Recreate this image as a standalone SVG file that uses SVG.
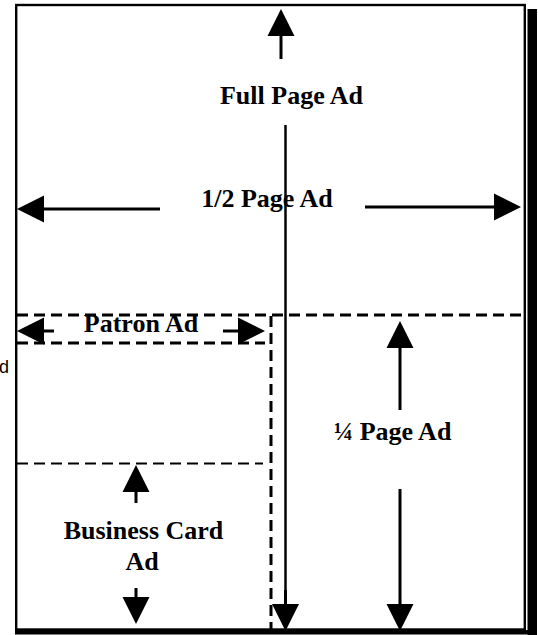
<svg xmlns="http://www.w3.org/2000/svg" width="538" height="635" viewBox="0 0 538 635">
  <style>
    .lbl { font-family: "Liberation Serif", "Times New Roman", serif; font-weight: bold; font-size: 26px; fill: #000; text-anchor: middle; }
    .side { font-family: "Liberation Sans", Arial, sans-serif; font-size: 18px; fill: #000; }
    .arrow { stroke: #000; stroke-width: 3; fill: none; marker-end: url(#head); }
    .dash { stroke: #000; stroke-width: 3; fill: none; stroke-dasharray: 11 6; }
    .solid { stroke: #000; stroke-width: 2.5; fill: none; }
  </style>
  <defs>
    <marker id="head" markerUnits="userSpaceOnUse" markerWidth="28" markerHeight="28" refX="0" refY="13.5" orient="auto" overflow="visible">
      <path d="M0,0 L27,13.5 L0,27 Z" fill="#000"/>
    </marker>
  </defs>

  <rect width="538" height="635" fill="#fff"/>

  <g id="page">
    <rect x="527.5" y="9" width="9.5" height="626" fill="#000"/>
    <rect x="15" y="630" width="522" height="4.5" fill="#000"/>
    <rect x="16.2" y="5" width="508.6" height="624.5" fill="#fff" stroke="#000" stroke-width="2.4"/>
  </g>

  <g id="divisions">
    <line class="dash" x1="17" y1="315" x2="525" y2="315"/>
    <line class="dash" x1="17" y1="343" x2="265" y2="343"/>
    <line class="dash" x1="271" y1="316" x2="271" y2="629"/>
    <line class="dash" x1="17" y1="463.5" x2="263" y2="463.5" style="stroke-width:2.2"/>
  </g>

  <g id="connectors">
    <line class="arrow" x1="281" y1="59" x2="281" y2="36"/>
    <line class="solid" x1="285.5" y1="125" x2="285.5" y2="604"/>
    <line class="arrow" x1="285.5" y1="590" x2="285.5" y2="604"/>
    <line class="arrow" x1="160" y1="209" x2="44" y2="209"/>
    <line class="arrow" x1="365" y1="207" x2="494" y2="207"/>
    <line class="arrow" x1="54" y1="331" x2="44" y2="331"/>
    <line class="arrow" x1="223" y1="331" x2="238" y2="331"/>
    <line class="arrow" x1="136" y1="503" x2="136" y2="492"/>
    <line class="arrow" x1="136" y1="588" x2="136" y2="597"/>
    <line class="arrow" x1="400" y1="410" x2="400" y2="348"/>
    <line class="arrow" x1="400" y1="489" x2="400" y2="604"/>
  </g>

  <g id="full-page-ad">
    <text class="lbl" x="291.5" y="104">Full Page Ad</text>
  </g>
  <g id="half-page-ad">
    <text class="lbl" x="267" y="207">1/2 Page Ad</text>
  </g>
  <g id="patron-ad">
    <text class="lbl" x="141" y="332">Patron Ad</text>
  </g>
  <g id="business-card-ad">
    <text class="lbl" x="143.5" y="539">Business Card</text>
    <text class="lbl" x="142" y="570">Ad</text>
  </g>
  <g id="quarter-page-ad">
    <text class="lbl" x="392.5" y="440">¼ Page Ad</text>
  </g>
  <g id="side-label">
    <text class="side" x="-1" y="373">d</text>
  </g>
</svg>
